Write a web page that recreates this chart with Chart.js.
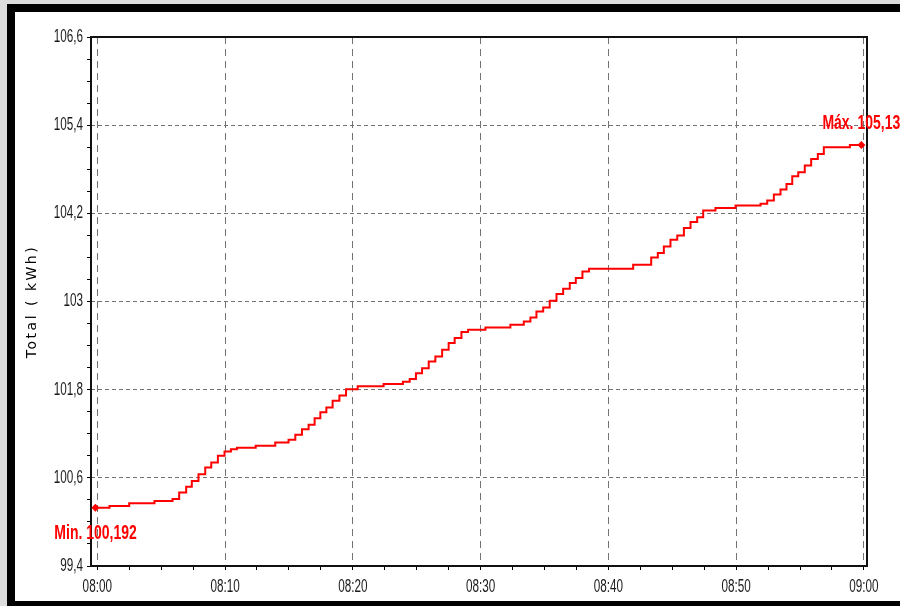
<!DOCTYPE html>
<html>
<head>
<meta charset="utf-8">
<title>Total (kWh)</title>
<script src="https://cdn.jsdelivr.net/npm/chart.js@4.4.0/dist/chart.umd.min.js"></script>
<style>
  html, body { margin: 0; padding: 0; width: 900px; height: 606px; overflow: hidden; background: #dcdcdc; }
  #frame {
    position: absolute; left: 7px; top: 4px; width: 893px; height: 602px;
    box-sizing: border-box; background: #fff;
    border-left: 8px solid #000; border-top: 8px solid #000; border-bottom: 5px solid #000;
  }
  #chart { position: absolute; left: 0; top: 0; }
</style>
</head>
<body>
<div id="frame"></div>
<canvas id="chart" width="900" height="606"></canvas>
<script>
// Meter reading, minutes after 08:00 at which each new value was logged
const times = [
  -0.15, 0.96, 2.50, 4.48, 5.89, 6.41, 6.96, 7.40, 7.92, 8.45,
  8.92, 9.44, 9.96, 10.46, 10.93, 12.40, 13.93, 14.97, 15.50, 16.02,
  16.54, 17.01, 17.46, 17.93, 18.42, 18.95, 19.47, 20.38, 22.41, 23.92,
  24.45, 24.94, 25.42, 25.94, 26.46, 26.99, 27.50, 27.97, 28.50, 29.02,
  30.38, 32.33, 33.38, 33.90, 34.37, 34.90, 35.41, 35.94, 36.46, 36.98,
  37.45, 37.97, 38.48, 41.94, 43.35, 43.87, 44.34, 44.86, 45.39, 45.91,
  46.43, 46.95, 47.42, 48.38, 49.95, 51.91, 52.43, 52.95, 53.47, 53.94,
  54.39, 54.86, 55.37, 55.87, 56.39, 56.86, 58.90, 59.80
];
// Total energy (kWh)
const values = [
  100.192, 100.217, 100.254, 100.286, 100.313, 100.399, 100.480, 100.558, 100.649, 100.739,
  100.807, 100.899, 100.957, 100.990, 101.008, 101.035, 101.080, 101.117, 101.185, 101.262,
  101.321, 101.412, 101.494, 101.557, 101.648, 101.720, 101.807, 101.846, 101.876, 101.907,
  101.944, 102.025, 102.093, 102.183, 102.251, 102.343, 102.434, 102.502, 102.584, 102.615,
  102.647, 102.683, 102.728, 102.783, 102.865, 102.919, 103.010, 103.102, 103.174, 103.252,
  103.320, 103.410, 103.446, 103.501, 103.600, 103.660, 103.750, 103.841, 103.900, 104.001,
  104.083, 104.145, 104.237, 104.271, 104.305, 104.332, 104.373, 104.455, 104.523, 104.600,
  104.704, 104.758, 104.850, 104.941, 105.009, 105.099, 105.130, 105.130
];

// Axis ticks
const xMajor = [0, 10, 20, 30, 40, 50, 60];
const xLabels = ['08:00', '08:10', '08:20', '08:30', '08:40', '08:50', '09:00'];
const yMajor = [99.4, 100.6, 101.8, 103, 104.2, 105.4, 106.6];
const yLabels = ['99,4', '100,6', '101,8', '103', '104,2', '105,4', '106,6'];
const yTitle = 'Total ( kWh)';

const SUB = 4; // minor divisions per major step
function withMinor(major) {
  const out = [];
  for (let i = 0; i < major.length - 1; i++) {
    for (let k = 0; k < SUB; k++) out.push(major[i] + (major[i + 1] - major[i]) * k / SUB);
  }
  out.push(major[major.length - 1]);
  return out;
}
const xTicks = withMinor(xMajor);
const yTicks = withMinor(yMajor);

const isMajor = c => c.index % SUB === 0;
const fmt = v => String(v).replace('.', ',');

const points = times.map((t, i) => ({ x: t, y: values[i] }));
const last = points.length - 1;

// Condensed text: draw with a horizontal squeeze
function squeezedText(ctx, text, x, y, align, font, color, sx) {
  ctx.save();
  ctx.font = font;
  ctx.fillStyle = color;
  ctx.textBaseline = 'middle';
  ctx.textAlign = 'left';
  const w = ctx.measureText(text).width * sx;
  const left = align === 'right' ? x - w : align === 'center' ? x - w / 2 : x;
  ctx.translate(left, y);
  ctx.scale(sx, 1);
  ctx.fillText(text, 0, 0);
  ctx.restore();
}

// Plot frame drawn over the grid
const framePlugin = {
  id: 'frame',
  beforeDatasetsDraw(chart) {
    const { ctx, chartArea: a } = chart;
    ctx.save();
    ctx.strokeStyle = '#111';
    ctx.lineWidth = 2;
    ctx.strokeRect(a.left, a.top, a.right - a.left, a.bottom - a.top);
    ctx.restore();
  }
};

// Tick labels and rotated y-axis title
const TICK_FONT = "18px 'Liberation Sans', Arial, sans-serif";
const labelsPlugin = {
  id: 'axisLabels',
  afterDraw(chart) {
    const { ctx, chartArea: a, scales: { x, y } } = chart;
    yMajor.forEach((v, i) => squeezedText(ctx, yLabels[i], a.left - 8, y.getPixelForValue(v), 'right', TICK_FONT, '#1a1a1a', 0.65));
    xMajor.forEach((v, i) => squeezedText(ctx, xLabels[i], x.getPixelForValue(v), a.bottom + 21, 'center', TICK_FONT, '#1a1a1a', 0.65));

    ctx.save();
    ctx.translate(32, (a.top + a.bottom) / 2);
    ctx.rotate(-Math.PI / 2);
    ctx.font = "14px 'DejaVu Sans', sans-serif";
    if ('letterSpacing' in ctx) ctx.letterSpacing = '2.5px';
    ctx.fillStyle = '#000';
    ctx.textAlign = 'center';
    ctx.textBaseline = 'middle';
    ctx.fillText(yTitle, 0, 0);
    ctx.restore();
  }
};

// Min / max callouts placed next to their points
const extremaPlugin = {
  id: 'extrema',
  afterDatasetsDraw(chart) {
    const { ctx, scales: { x, y } } = chart;
    let iMin = 0, iMax = 0;
    values.forEach((v, i) => { if (v < values[iMin]) iMin = i; if (v >= values[iMax]) iMax = i; });
    const font = "bold 20px 'Liberation Sans', Arial, sans-serif";
    const pMin = { x: x.getPixelForValue(times[iMin]), y: y.getPixelForValue(values[iMin]) };
    const pMax = { x: x.getPixelForValue(times[iMax]), y: y.getPixelForValue(values[iMax]) };
    squeezedText(ctx, 'Min. ' + fmt(values[iMin]), pMin.x - 41, pMin.y + 26, 'left', font, '#ff0000', 0.70);
    squeezedText(ctx, 'Máx. ' + fmt(values[iMax]), pMax.x - 39, pMax.y - 22, 'left', font, '#ff0000', 0.70);
  }
};

new Chart(document.getElementById('chart'), {
  type: 'line',
  data: {
    datasets: [{
      data: points,
      stepped: true,
      borderColor: '#ff0000',
      backgroundColor: '#ff0000',
      borderWidth: 2,
      fill: false,
      pointStyle: 'rectRot',
      pointRadius: c => (c.dataIndex === 0 || c.dataIndex === last) ? 4 : 0,
      pointHoverRadius: 0,
      pointBorderWidth: 0
    }]
  },
  options: {
    responsive: false,
    animation: false,
    events: [],
    layout: { padding: { left: 0, top: 37, right: 33, bottom: 0 } },
    plugins: { legend: { display: false }, tooltip: { enabled: false } },
    scales: {
      x: {
        type: 'linear',
        min: -0.49,
        max: 60.24,
        afterBuildTicks: s => { s.ticks = xTicks.map(v => ({ value: v })); },
        afterFit: s => { s.height = 40; },
        border: { display: false, dash: [7, 5] },
        grid: {
          color: c => isMajor(c) ? '#727272' : 'rgba(0,0,0,0)',
          lineWidth: 1,
          tickColor: '#000',
          tickLength: 4,
          drawTicks: true
        },
        ticks: { display: false, autoSkip: false }
      },
      y: {
        type: 'linear',
        min: 99.4,
        max: 106.6,
        afterBuildTicks: s => { s.ticks = yTicks.map(v => ({ value: v })); },
        afterFit: s => { s.width = 91; },
        border: { display: false, dash: [4, 3] },
        grid: {
          color: c => isMajor(c) ? '#727272' : 'rgba(0,0,0,0)',
          lineWidth: 1,
          tickColor: '#000',
          tickLength: 4,
          drawTicks: true
        },
        ticks: { display: false, autoSkip: false }
      }
    }
  },
  plugins: [framePlugin, labelsPlugin, extremaPlugin]
});
</script>
</body>
</html>
